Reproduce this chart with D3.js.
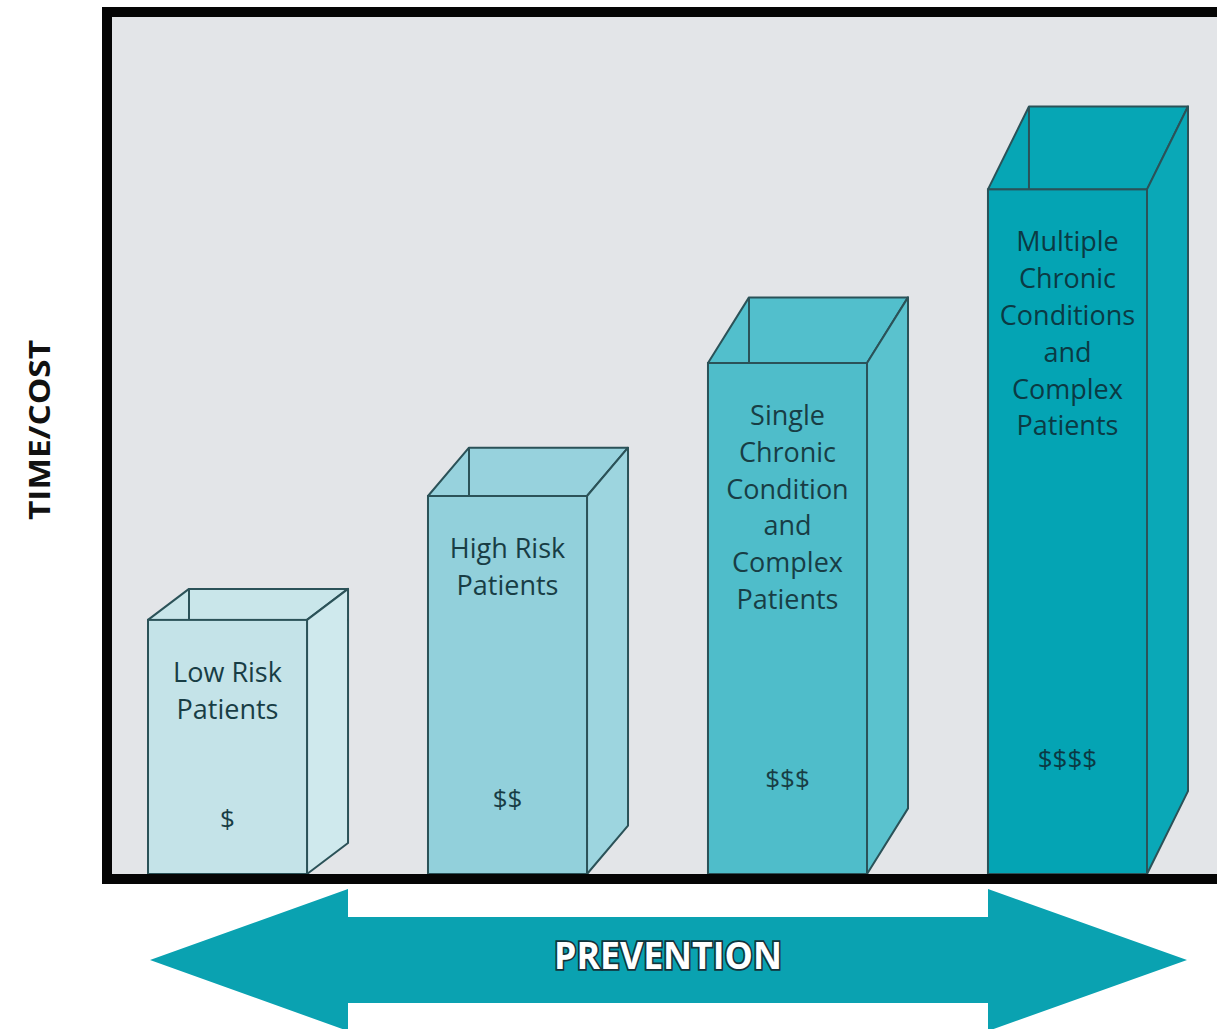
<!DOCTYPE html>
<html>
<head>
<meta charset="utf-8">
<script src="https://cdn.jsdelivr.net/npm/d3@7"></script>
<style>
  html, body { margin: 0; padding: 0; background: #ffffff; }
  svg { display: block; }
</style>
</head>
<body>
<svg id="chart" width="1217" height="1029"></svg>
<script>
// Patient groups, their relative time/cost index and the cost marker shown on each box
const categories = ["Low Risk", "High Risk", "Single Chronic", "Multiple Chronic"];
const labelLines = [
  ["Low Risk", "Patients"],
  ["High Risk", "Patients"],
  ["Single", "Chronic", "Condition", "and", "Complex", "Patients"],
  ["Multiple", "Chronic", "Conditions", "and", "Complex", "Patients"]
];
const costIndex = [36.3, 54.0, 73.0, 97.8];
const costMarks = ["$", "$$", "$$$", "$$$$"];
const axisTitle = "TIME/COST";
const arrowTitle = "PREVENTION";

// Box colours: front face, side face, inside wall
const frontColors = ["#c4e3e8", "#92d0db", "#4fbdca", "#04a4b4"];
const sideColors  = ["#cfe9ed", "#9dd5df", "#5ac2ce", "#0aa8b7"];
const innerColors = ["#c9e6ea", "#97d2dd", "#52bfcc", "#06a6b5"];

const svg = d3.select("#chart");
const W = 1217, H = 1029;

// Plot frame
const frame = { left: 107, top: 12, right: 1232, bottom: 879 };
const baseY = 874;

const x = d3.scaleBand()
  .domain(categories)
  .range([148, 1147])
  .paddingInner(0.432)
  .paddingOuter(0);

const y = d3.scaleLinear()
  .domain([0, 100])
  .range([baseY, 174]);

// Plot background with heavy border
svg.append("rect")
  .attr("x", frame.left).attr("y", frame.top)
  .attr("width", frame.right - frame.left)
  .attr("height", frame.bottom - frame.top)
  .attr("fill", "#e3e5e8")
  .attr("stroke", "#050505")
  .attr("stroke-width", 10);

const strokeCol = "#2b5258";
const depthX = 41;
const depthY = i => 31 + 17.3 * i;   // perspective: deeper boxes toward the right

const labelFont = "'Open Sans', sans-serif";

svg.append("g").selectAll("g")
  .data(categories)
  .join("g")
  .each(function (c, i) {
    const g = d3.select(this);
    const x0 = x(c), x1 = x(c) + x.bandwidth();
    const yt = y(costIndex[i]);
    const dx = depthX, dy = depthY(i);

    // Open top: inside of back wall seen through the opening
    g.append("polygon")
      .attr("points", [[x0, yt], [x0 + dx, yt - dy], [x1 + dx, yt - dy], [x1, yt]].join(" "))
      .attr("fill", innerColors[i])
      .attr("stroke", strokeCol).attr("stroke-width", 2).attr("stroke-linejoin", "round");
    // Inner back-left edge
    g.append("line")
      .attr("x1", x0 + dx).attr("y1", yt - dy)
      .attr("x2", x0 + dx).attr("y2", yt)
      .attr("stroke", strokeCol).attr("stroke-width", 2);

    // Right side face
    g.append("polygon")
      .attr("points", [[x1, yt], [x1 + dx, yt - dy], [x1 + dx, baseY - dy], [x1, baseY]].join(" "))
      .attr("fill", sideColors[i])
      .attr("stroke", strokeCol).attr("stroke-width", 2).attr("stroke-linejoin", "round");

    // Front face
    g.append("rect")
      .attr("x", x0).attr("y", yt)
      .attr("width", x1 - x0).attr("height", baseY - yt)
      .attr("fill", frontColors[i])
      .attr("stroke", strokeCol).attr("stroke-width", 2);

    const cx = (x0 + x1) / 2;
    const textCol = i === 3 ? "#0b3a44" : "#183d45";
    const t = g.append("text")
      .attr("text-anchor", "middle")
      .attr("font-family", labelFont)
      .attr("font-weight", 500)
      .attr("font-size", 27)
      .attr("fill", textCol);
    labelLines[i].forEach((ln, k) => {
      t.append("tspan")
        .attr("x", cx)
        .attr("y", yt + 62 + k * 36.8)
        .text(ln);
    });

    g.append("text")
      .attr("x", cx)
      .attr("y", baseY - 46 - 20 * i)
      .attr("text-anchor", "middle")
      .attr("font-family", labelFont)
      .attr("font-weight", 500)
      .attr("font-size", 26)
      .attr("fill", textCol)
      .text(costMarks[i]);
  });

// Bottom baseline drawn over the box bottoms
svg.append("line")
  .attr("x1", frame.left - 5).attr("x2", W)
  .attr("y1", frame.bottom).attr("y2", frame.bottom)
  .attr("stroke", "#050505").attr("stroke-width", 10);

// Axis title
svg.append("text")
  .attr("transform", `translate(50, 430) rotate(-90)`)
  .attr("text-anchor", "middle")
  .attr("font-family", labelFont)
  .attr("font-weight", 700)
  .attr("font-size", 29)
  .attr("textLength", 180)
  .attr("lengthAdjust", "spacingAndGlyphs")
  .attr("fill", "#111111")
  .text(axisTitle);

// Double-headed prevention arrow
const arrow = { left: 150, right: 1187, headL: 348, headR: 988, cy: 960, headHalf: 71, shaftHalf: 43 };
const ap = [
  [arrow.left, arrow.cy],
  [arrow.headL, arrow.cy - arrow.headHalf],
  [arrow.headL, arrow.cy - arrow.shaftHalf],
  [arrow.headR, arrow.cy - arrow.shaftHalf],
  [arrow.headR, arrow.cy - arrow.headHalf],
  [arrow.right, arrow.cy],
  [arrow.headR, arrow.cy + arrow.headHalf],
  [arrow.headR, arrow.cy + arrow.shaftHalf],
  [arrow.headL, arrow.cy + arrow.shaftHalf],
  [arrow.headL, arrow.cy + arrow.headHalf]
];
svg.append("polygon")
  .attr("points", ap.join(" "))
  .attr("fill", "#0aa2b1");

svg.append("text")
  .attr("x", 668).attr("y", 969)
  .attr("text-anchor", "middle")
  .attr("font-family", labelFont)
  .attr("font-weight", 700)
  .attr("font-size", 37)
  .attr("textLength", 228)
  .attr("lengthAdjust", "spacingAndGlyphs")
  .attr("fill", "#ffffff")
  .attr("stroke", "#12333a")
  .attr("stroke-width", 3.5)
  .attr("paint-order", "stroke")
  .text(arrowTitle);
</script>
</body>
</html>
